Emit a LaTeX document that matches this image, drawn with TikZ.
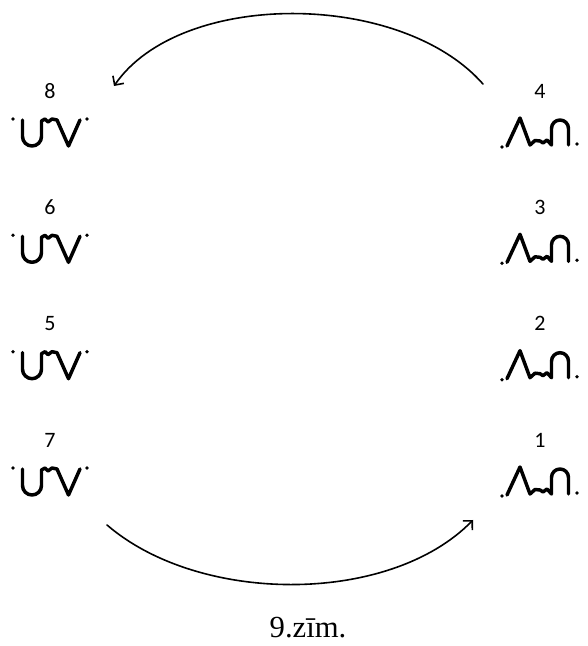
\documentclass[tikz,border=0pt]{standalone}
\usepackage{fontspec}
\setmainfont{Liberation Serif}
\newfontfamily\numfont{Carlito}
\usetikzlibrary{arrows.meta}
\begin{document}
\begin{tikzpicture}[x=0.75pt, y=0.75pt, line join=round, line cap=round, >={Straight Barb[length=5pt,width=10pt]}]
			\def\xl{50} \def\xr{540} % columns
			\tikzset{num/.style={font=\numfont\fontsize{16.5}{19}\selectfont}, sign/.style={line width=2.6pt}}
			\useasboundingbox (0,0) rectangle (587,646);
			\foreach \a/\b/\y in {8/4/555, 6/3/438.7, 5/2/322.3, 7/1/206}{
				\node[num] (l\a) at (\xl,\y) {\a};
				\node[num] (r\b) at (\xr,\y) {\b};
				\begin{scope}[shift={(\xl,\y-41)}]
					\fill (-37,13) circle (1.9) (37,13) circle (1.9);
					\draw[sign] (-27.5,12) -- (-27.5,-4.5) arc[start angle=180,end angle=360,radius=9.5] -- (-8.5,11) -- (-5,13) -- (-2,10) -- (2,13) -- (7,12) -- (18.5,-14) -- (30,12);
				\end{scope}
				\begin{scope}[shift={(\xr,\y-41)}]
					\fill (-38,-15) circle (1.9) (37,-12) circle (1.9);
					\draw[sign] (-33,-14) -- (-20,14) -- (-10,-13) -- (-5,-8.5) -- (0,-9) -- (3,-11) -- (7,-8) -- (11.5,-13) -- (11.5,3.5) arc[start angle=180,end angle=0,radius=8.5] -- (28.5,-13);
				\end{scope}
			}
			\coordinate (top4) at (483,562); \coordinate (top8) at (114,560);
			\coordinate (bot7) at (107,121); \coordinate (bot1) at (473,126);
			\draw[->, line width=1.2pt] (top4) .. controls (400,656) and (180,656) .. (top8);
			\draw[->, line width=1.2pt] (bot7) .. controls (200,41) and (390,41) .. (bot1);
			\node[font=\fontsize{23}{27}\selectfont] (cap) at (308,18) {9.zīm.};
	\end{tikzpicture}
\end{document}
